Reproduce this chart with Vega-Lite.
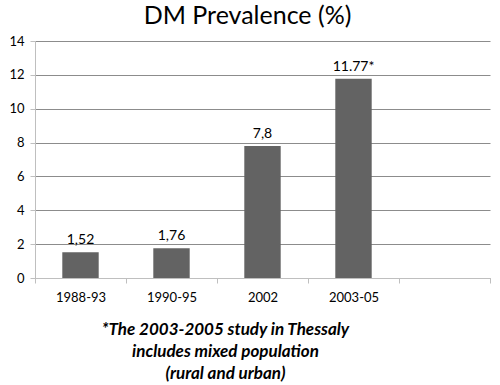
{
  "$schema": "https://vega.github.io/schema/vega-lite/v6.json",
  "width": 455,
  "height": 237,
  "autosize": {"type": "none"},
  "padding": {"left": 35, "top": 41, "right": 10, "bottom": 107},
  "background": "white",
  "title": {
    "text": "DM Prevalence (%)",
    "font": "Lato",
    "fontSize": 25,
    "fontWeight": "normal",
    "color": "#000000",
    "anchor": "middle",
    "offset": 6,
    "dx": -15
  },
  "data": {
    "values": [
      {"period": "1988-93", "value": 1.52, "label": "1,52"},
      {"period": "1990-95", "value": 1.76, "label": "1,76"},
      {"period": "2002", "value": 7.8, "label": "7,8"},
      {"period": "2003-05", "value": 11.77, "label": "11.77*"}
    ]
  },
  "encoding": {
    "x": {
      "field": "period",
      "type": "nominal",
      "sort": null,
      "scale": {"domain": ["1988-93", "1990-95", "2002", "2003-05", " "], "paddingInner": 0, "paddingOuter": 0},
      "axis": {
        "labelAngle": 0,
        "labelFont": "Lato",
        "labelFontSize": 13,
        "labelColor": "#000000",
        "labelPadding": 8,
        "tickBand": "extent",
        "tickColor": "#bfbfbf",
        "tickSize": 5,
        "domainColor": "#bfbfbf",
        "title": ["*The 2003-2005 study in Thessaly", "includes mixed population", "(rural and urban)"],
        "titleFont": "Lato",
        "titleFontSize": 17,
        "titleFontStyle": "italic",
        "titleFontWeight": "bold",
        "titleColor": "#000000",
        "titleLineHeight": 22,
        "titleAnchor": "middle",
        "titleX": 190,
        "titlePadding": 17
      }
    },
    "y": {
      "field": "value",
      "type": "quantitative",
      "scale": {"domain": [0, 14], "nice": false},
      "axis": {
        "values": [0, 2, 4, 6, 8, 10, 12, 14],
        "title": null,
        "labelFont": "Lato",
        "labelFontSize": 13,
        "labelColor": "#000000",
        "labelPadding": 6,
        "tickColor": "#bfbfbf",
        "tickSize": 5,
        "domainColor": "#bfbfbf",
        "grid": true,
        "gridColor": "#8c8c8c",
        "gridWidth": 1
      }
    }
  },
  "layer": [
    {"mark": {"type": "bar", "color": "#636363", "width": {"band": 0.4}}},
    {
      "mark": {"type": "text", "dy": -12, "font": "Lato", "fontSize": 14, "color": "#000000"},
      "encoding": {"text": {"field": "label"}}
    }
  ],
  "config": {"view": {"stroke": null}}
}
